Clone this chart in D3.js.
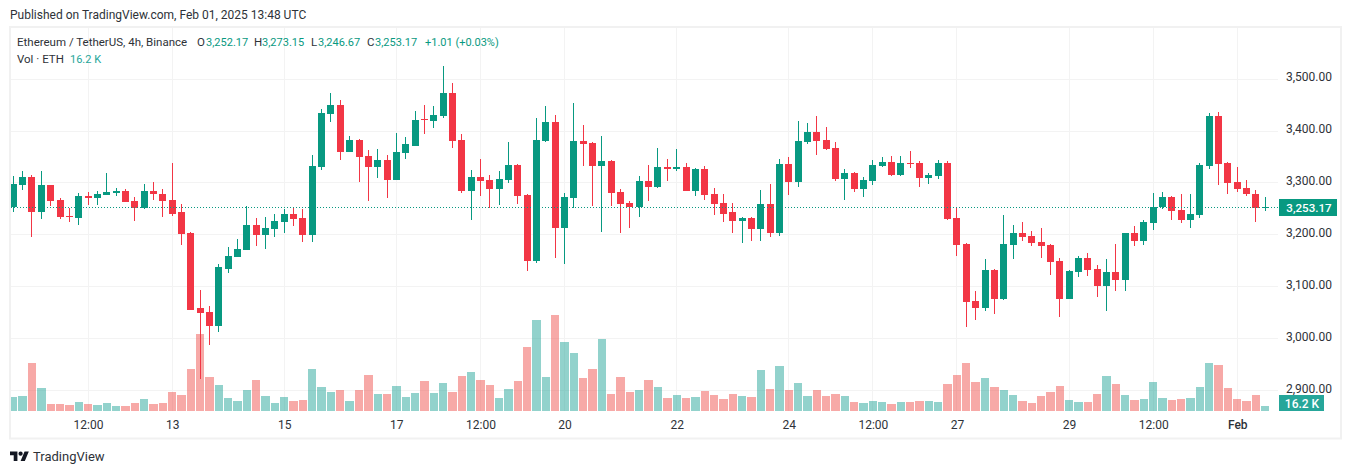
<!DOCTYPE html>
<html>
<head>
<meta charset="utf-8">
<script src="https://cdn.jsdelivr.net/npm/d3@7"></script>
<style>
  html, body { margin: 0; padding: 0; background: #fff; }
  svg { display: block; }
  text { font-family: Roboto, sans-serif; font-size: 12px; fill: #2e3238; }
</style>
</head>
<body>
<svg id="chart" width="1352" height="474"></svg>
<script>
// candles (4h bars, first one is Jan 10 00:00)
const opens = [
  3253,3295,3312,3244,3295,3268,3237,3233,3274,3270,
  3276,3281,3285,3266,3251,3285,3279,3268,3243,3203,
  3058,3051,3024,3135,3158,3170,3218,3199,3212,3224,
  3241,3233,3199,3331,3433,3451,3360,3383,3351,3331,
  3345,3306,3358,3372,3424,3420,3429,3474,3383,3285,
  3312,3306,3289,3306,3335,3276,3149,3381,3418,3214,
  3270,3381,3376,3333,3343,3283,3262,3253,3304,3293,
  3331,3326,3331,3285,3326,3278,3262,3243,3226,3233,
  3212,3260,3203,3337,3301,3378,3399,3383,3368,3308,
  3320,3289,3304,3333,3341,3316,3339,3339,3310,3314,
  3339,3233,3183,3072,3058,3133,3076,3181,3203,3197,
  3187,3181,3149,3076,3129,3156,3135,3101,3128,3112,
  3203,3189,3222,3253,3272,3247,3229,3239,3333,3428,
  3339,3301,3291,3279,3252.17
];
const closes = [
  3297,3312,3244,3295,3266,3235,3235,3274,3270,3278,
  3283,3285,3264,3251,3285,3278,3266,3241,3201,3056,
  3049,3024,3137,3160,3172,3218,3199,3214,3226,3241,
  3231,3199,3333,3435,3451,3360,3383,3349,3331,3345,
  3306,3360,3374,3422,3422,3431,3474,3381,3285,3312,
  3304,3289,3308,3335,3274,3149,3383,3418,3214,3272,
  3381,3374,3333,3343,3281,3260,3253,3304,3293,3331,
  3326,3331,3285,3326,3276,3260,3241,3226,3233,3212,
  3260,3203,3337,3301,3381,3399,3381,3366,3308,3320,
  3289,3306,3335,3341,3316,3339,3337,3310,3316,3339,
  3231,3181,3070,3058,3133,3076,3183,3203,3195,3185,
  3179,3147,3076,3131,3156,3133,3101,3128,3112,3203,
  3189,3224,3254,3272,3245,3229,3241,3335,3428,3337,
  3299,3289,3278,3252,3253.17
];
const highs = [
  3314,3322,3316,3322,3296,3270,3251,3281,3283,3285,
  3320,3291,3289,3272,3297,3301,3289,3339,3260,3206,
  3093,3062,3143,3176,3191,3256,3233,3235,3241,3249,
  3253,3249,3354,3443,3474,3460,3391,3385,3364,3366,
  3354,3397,3389,3439,3451,3449,3526,3493,3395,3324,
  3347,3316,3322,3378,3337,3278,3426,3449,3431,3281,
  3453,3412,3379,3391,3345,3289,3266,3314,3335,3368,
  3347,3366,3339,3329,3333,3291,3278,3262,3234,3234,
  3287,3297,3347,3349,3420,3416,3428,3408,3378,3326,
  3321,3312,3345,3349,3351,3351,3362,3343,3320,3345,
  3343,3254,3184,3091,3153,3134,3239,3218,3224,3208,
  3214,3183,3156,3133,3160,3164,3141,3154,3183,3204,
  3216,3229,3281,3283,3274,3279,3278,3339,3435,3437,
  3340,3331,3306,3287,3273.15
];
const lows = [
  3244,3287,3195,3231,3256,3231,3224,3218,3258,3258,
  3276,3274,3264,3226,3249,3268,3235,3237,3181,3056,
  2922,2987,3012,3126,3158,3170,3178,3172,3195,3204,
  3216,3187,3187,3324,3418,3345,3360,3301,3266,3310,
  3270,3306,3347,3372,3395,3406,3426,3368,3281,3228,
  3274,3251,3258,3299,3260,3131,3145,3378,3156,3143,
  3251,3333,3256,3206,3256,3204,3214,3235,3266,3291,
  3303,3322,3285,3274,3268,3239,3224,3204,3185,3189,
  3189,3195,3197,3276,3293,3374,3354,3364,3304,3268,
  3283,3272,3295,3331,3314,3314,3329,3293,3297,3308,
  3229,3160,3022,3035,3054,3047,3074,3153,3189,3178,
  3156,3122,3041,3076,3118,3120,3081,3054,3091,3091,
  3179,3181,3210,3249,3229,3222,3214,3233,3326,3295,
  3278,3283,3274,3224,3246.67
];
// volume in thousands of ETH
const volumes = [
  45,49,156,75,23,23,19,29,23,19,
  26,16,16,26,39,23,26,62,52,136,
  249,110,84,42,32,68,100,49,26,45,
  32,36,136,78,62,68,32,68,117,55,
  55,81,45,58,97,58,91,62,113,126,
  100,84,42,71,97,207,295,110,311,224,
  188,107,136,233,55,110,62,68,100,78,
  42,52,42,45,65,52,39,55,49,45,
  133,71,146,68,91,49,68,49,55,49,
  29,26,32,29,23,29,29,32,32,29,
  87,117,156,94,107,78,68,52,32,26,
  49,62,81,36,29,29,55,113,87,52,
  36,39,94,42,36,39,42,78,156,149,
  75,39,32,52,16.2
];

const priceTicks = [2900, 3000, 3100, 3200, 3300, 3400, 3500];
const timeTickBars = [8, 17, 29, 41, 50, 59, 71, 83, 92, 101, 113, 122, 131];
const timeTickLabels = ["12:00", "13", "15", "17", "12:00", "20", "22", "24", "12:00", "27", "29", "12:00", "Feb"];

const lastPrice = 3253.17;
const green = "#089981", red = "#f23645";
const volGreen = "#26a69a", volRed = "#ef5350";
const gridColor = "#f3f3f3";

const plotLeft = 11, plotRight = 1278, plotTop = 28, plotBottom = 411;

const svg = d3.select("#chart");

const x = d3.scaleLinear().domain([0, opens.length - 1]).range([13.3, 1265.3]);
const y = d3.scaleLinear().domain([2900, 3500]).range([390.5, 79.1]);
const yVol = d3.scaleLinear().domain([0, 311]).range([plotBottom, 315]);

const snap = v => Math.floor(v) + 0.5;

svg.append("defs").append("clipPath").attr("id", "plot")
  .append("rect")
  .attr("x", plotLeft).attr("y", plotTop)
  .attr("width", plotRight - plotLeft).attr("height", plotBottom - plotTop);

// panel frame
svg.append("rect")
  .attr("x", 10).attr("y", 27)
  .attr("width", 1331).attr("height", 411.5)
  .attr("fill", "none")
  .attr("stroke", "#f1f1f1")
  .attr("stroke-width", 2);

// grid
const grid = svg.append("g");
grid.selectAll("line.h")
  .data(priceTicks)
  .join("line")
  .attr("class", "h")
  .attr("x1", plotLeft).attr("x2", plotRight)
  .attr("y1", d => snap(y(d))).attr("y2", d => snap(y(d)))
  .attr("stroke", gridColor);
grid.selectAll("line.v")
  .data(timeTickBars)
  .join("line")
  .attr("class", "v")
  .attr("x1", d => snap(x(d))).attr("x2", d => snap(x(d)))
  .attr("y1", plotTop).attr("y2", plotBottom)
  .attr("stroke", gridColor);

const plot = svg.append("g").attr("clip-path", "url(#plot)");
const bars = d3.range(opens.length);
const isUp = i => closes[i] >= opens[i];

// volume
plot.append("g").selectAll("rect")
  .data(bars)
  .join("rect")
  .attr("x", i => Math.ceil(x(i - 0.5)))
  .attr("width", i => Math.ceil(x(i + 0.5)) - 1 - Math.ceil(x(i - 0.5)))
  .attr("y", i => Math.round(yVol(volumes[i])))
  .attr("height", i => plotBottom - Math.round(yVol(volumes[i])))
  .attr("fill", i => isUp(i) ? volGreen : volRed)
  .attr("fill-opacity", 0.5);

// wicks
plot.append("g").selectAll("line")
  .data(bars)
  .join("line")
  .attr("x1", i => snap(x(i))).attr("x2", i => snap(x(i)))
  .attr("y1", i => Math.round(y(highs[i])))
  .attr("y2", i => Math.round(y(lows[i])))
  .attr("stroke", i => isUp(i) ? green : red)
  .attr("stroke-width", 1);

// bodies
plot.append("g").selectAll("rect")
  .data(bars)
  .join("rect")
  .attr("x", i => Math.floor(x(i)) - 3)
  .attr("width", 7)
  .attr("y", i => Math.round(y(Math.max(opens[i], closes[i]))))
  .attr("height", i => Math.max(1, Math.round(y(Math.min(opens[i], closes[i]))) - Math.round(y(Math.max(opens[i], closes[i])))))
  .attr("fill", i => isUp(i) ? green : red);

// last price line
svg.append("line")
  .attr("x1", plotLeft).attr("x2", plotRight)
  .attr("y1", snap(y(lastPrice))).attr("y2", snap(y(lastPrice)))
  .attr("stroke", green)
  .attr("stroke-dasharray", "1 2");

// price axis, labels sit a little above their grid lines
const fmtPrice = d3.format(",.2f");
const priceAxis = svg.append("g")
  .attr("transform", `translate(${plotRight},-2)`)
  .call(d3.axisRight(y).tickValues(priceTicks).tickFormat(fmtPrice).tickSize(0).tickPadding(8));
priceAxis.select(".domain").remove();
priceAxis.selectAll("text").style("font-family", "Roboto, sans-serif").style("font-size", "12px").attr("fill", "#2e3238");

// time axis
const timeAxis = svg.append("g")
  .attr("transform", `translate(0,${plotBottom})`)
  .call(d3.axisBottom(x).tickValues(timeTickBars).tickFormat((d, i) => timeTickLabels[i]).tickSize(0).tickPadding(9));
timeAxis.select(".domain").remove();
timeAxis.selectAll("text")
  .style("font-family", "Roboto, sans-serif").style("font-size", "12px")
  .attr("fill", "#2e3238")
  .style("font-weight", (d, i) => timeTickLabels[i] === "Feb" ? 500 : 400);

// last price label
svg.append("rect")
  .attr("x", 1279).attr("y", snap(y(lastPrice)) - 8.5)
  .attr("width", 58).attr("height", 17)
  .attr("fill", green);
svg.append("text")
  .attr("x", 1309).attr("y", snap(y(lastPrice)) + 4)
  .attr("text-anchor", "middle")
  .style("fill", "#fff").style("font-weight", 500).style("font-size", "11.6px")
  .text(fmtPrice(lastPrice));

// volume label
svg.append("rect")
  .attr("x", 1279).attr("y", 395)
  .attr("width", 45).attr("height", 16)
  .attr("fill", volGreen);
svg.append("text")
  .attr("x", 1302).attr("y", 408)
  .attr("text-anchor", "middle")
  .style("fill", "#fff").style("font-weight", 500)
  .text("16.2 K");

// legend and captions
const label = (px, py, str, color, size) => svg.append("text")
  .attr("x", px).attr("y", py)
  .style("fill", color || "#2e3238")
  .style("font-size", (size || 12) + "px")
  .text(str);

label(10, 19, "Published on TradingView.com, Feb 01, 2025 13:48 UTC");
label(17, 46, "Ethereum / TetherUS, 4h, Binance", null, 11.5);
label(197, 46, "O", null, 11.5); label(206, 46, "3,252.17", green, 11);
label(254, 46, "H", null, 11.5); label(262, 46, "3,273.15", green, 11);
label(311, 46, "L", null, 11.5); label(318, 46, "3,246.67", green, 11);
label(367, 46, "C", null, 11.5); label(375, 46, "3,253.17", green, 11);
label(425, 46, "+1.01 (+0.03%)", green, 11);
label(17, 63, "Vol · ETH", null, 11.5);
label(70, 63, "16.2 K", volGreen, 11);

// logo
const logo = svg.append("g")
  .attr("transform", "translate(10,449.4) scale(0.53)")
  .attr("fill", "#131722");
logo.append("path").attr("d", "M14 22H7V11H0V4h14v18zM28 22h-8l7.5-18h8L28 22z");
logo.append("circle").attr("cx", 20).attr("cy", 8).attr("r", 4);
svg.append("text")
  .attr("x", 33).attr("y", 461)
  .style("font-size", "13px")
  .text("TradingView");
</script>
</body>
</html>
